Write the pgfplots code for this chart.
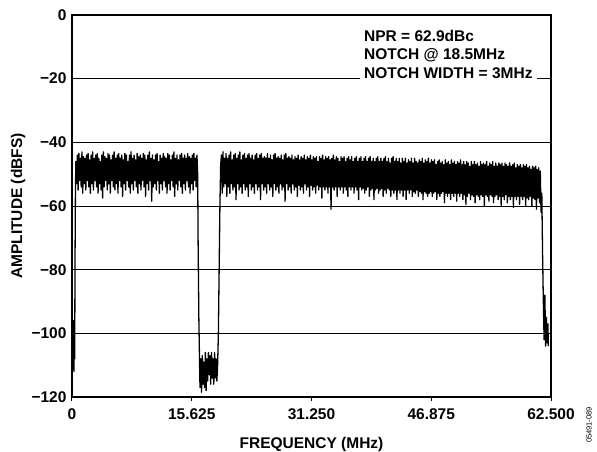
\documentclass[border=0pt]{standalone}
\usepackage{pgfplots}
\pgfplotsset{compat=1.18}
\usepackage{fontspec}
\setmainfont{Liberation Sans}
\newcommand\lbl{\fontsize{15.5}{18.5}\selectfont\bfseries}

\begin{document}
\begin{tikzpicture}
\begin{axis}[
  scale only axis, width=479pt, height=382pt,
  xmin=0, xmax=62.5, ymin=-120, ymax=0,
  axis line style={line width=1.4pt},
  xtick={0,15.625,31.25,46.875,62.5},
  xticklabels={0,15.625,31.250,46.875,62.500},
  ytick={-120,-100,-80,-60,-40,-20,0},
  yticklabels={−120,−100,−80,−60,−40,−20,0},
  ymajorgrids, grid style={black, line width=0.9pt},
  tick align=outside, xtick pos=bottom, ytick pos=left,
  major tick length=4pt,
  xtick style={black, line width=1pt},
  ytick style={draw=none},
  ticklabel style={font=\lbl},
  yticklabel style={xshift=2pt},
  xticklabel style={yshift=-4pt},
]
% spectrum trace: noise band, alternating top / bottom of the band
\addplot[black, line width=1.3pt, line join=round] coordinates {
(0.1,-98)(0.15,-111)(0.2,-96)(0.25,-112)(0.3,-100)(0.35,-108)(0.4,-75)(0.45,-55)
(0.5,-46)(0.6,-53)(0.7,-44)(0.8,-55)(0.9,-43.5)(1.0,-52)(1.1,-45)(1.2,-54)
(1.3,-43)(1.4,-56)(1.5,-44.5)(1.6,-53)(1.7,-45)(1.8,-55)(1.9,-44)(2.0,-52)
(2.1,-43.5)(2.2,-54)(2.3,-45.5)(2.4,-56)(2.5,-44)(2.6,-53)(2.7,-43)(2.8,-55)
(2.9,-45)(3.0,-52)(3.1,-44)(3.2,-54)(3.3,-43.5)(3.4,-56)(3.5,-45)(3.6,-53)
(3.7,-46)(3.8,-55)(3.9,-44)(4.0,-57.5)(4.1,-43)(4.2,-54)(4.3,-44.5)(4.4,-52)
(4.5,-45)(4.6,-55)(4.7,-43.5)(4.8,-53)(4.9,-44)(5.0,-56)(5.1,-45.5)(5.2,-52)
(5.3,-44)(5.4,-54)(5.5,-43)(5.6,-55)(5.7,-45)(5.8,-53)(5.9,-44)(6.0,-56)
(6.1,-43.5)(6.2,-52)(6.3,-45)(6.4,-54)(6.5,-44)(6.6,-57)(6.7,-45.5)(6.8,-53)
(6.9,-43.5)(7.0,-55)(7.1,-44)(7.2,-52)(7.3,-46)(7.4,-54)(7.5,-44)(7.6,-56)
(7.7,-43)(7.8,-53)(7.9,-45)(8.0,-55)(8.1,-44)(8.2,-52)(8.3,-45.5)(8.4,-54)
(8.5,-43.5)(8.6,-56)(8.7,-44.5)(8.8,-53)(8.9,-44)(9.0,-55)(9.1,-45)(9.2,-52)
(9.3,-43.5)(9.4,-54)(9.5,-44)(9.6,-57)(9.7,-45.5)(9.8,-53)(9.9,-44)(10.0,-55)
(10.1,-43)(10.2,-52)(10.3,-45)(10.4,-58.5)(10.5,-44)(10.6,-54)(10.7,-45.5)(10.8,-53)
(10.9,-44)(11.0,-55)(11.1,-43.5)(11.2,-52)(11.3,-46)(11.4,-56)(11.5,-44)(11.6,-53)
(11.7,-45)(11.8,-55)(11.9,-43.5)(12.0,-52)(12.1,-44.5)(12.2,-54)(12.3,-45)(12.4,-56)
(12.5,-43.5)(12.6,-53)(12.7,-44)(12.8,-55)(12.9,-45.5)(13.0,-52)(13.1,-44)(13.2,-54)
(13.3,-43)(13.4,-57)(13.5,-45)(13.6,-53)(13.7,-44)(13.8,-55)(13.9,-45.5)(14.0,-52)
(14.1,-44)(14.2,-54)(14.3,-43.5)(14.4,-56)(14.5,-45)(14.6,-53)(14.7,-44)(14.8,-55)
(14.9,-45)(15.0,-52)(15.1,-43.5)(15.2,-54)(15.3,-44.5)(15.4,-56)(15.5,-45)(15.6,-53)
(15.7,-44)(15.8,-55)(15.9,-43.5)(16.0,-52)(16.1,-45)(16.2,-54)(16.3,-44)
(16.4,-50)(16.45,-70)(16.55,-95)(16.65,-110)
(16.7,-117)(16.8,-108)(16.9,-118.5)(17.0,-107)(17.1,-116)(17.2,-109)(17.3,-117)(17.4,-106)
(17.5,-118)(17.6,-108)(17.7,-115)(17.8,-106)(17.9,-113)(18.0,-107)(18.1,-116)(18.2,-106)
(18.3,-114)(18.4,-108)(18.5,-116)(18.6,-106)(18.7,-114)(18.8,-108)(18.9,-115)(19.0,-110)
(19.1,-100)(19.2,-80)(19.3,-60)(19.4,-47)
(19.5,-44)(19.6,-56)(19.7,-43)(19.8,-54)(19.9,-45)(20.0,-53)(20.1,-43.5)(20.2,-57)
(20.3,-45)(20.4,-54)(20.5,-44)(20.6,-56)(20.7,-43)(20.8,-53)(20.9,-45.5)(21.0,-55)
(21.1,-44)(21.2,-54)(21.3,-43.5)(21.4,-58)(21.5,-45)(21.6,-53)(21.7,-44)(21.8,-55)
(21.9,-43)(22.0,-54)(22.1,-45.5)(22.2,-56)(22.3,-44)(22.4,-53)(22.5,-43.5)(22.6,-55)
(22.7,-45)(22.8,-54)(22.9,-44)(23.0,-57)(23.1,-43.5)(23.2,-53)(23.3,-45)(23.4,-55)
(23.5,-44)(23.6,-54)(23.7,-45.5)(23.8,-56)(23.9,-44)(24.0,-53)(24.1,-43.5)(24.2,-55)
(24.3,-45)(24.4,-54)(24.5,-44)(24.6,-58)(24.7,-43.5)(24.8,-53)(24.9,-45)(25.0,-55)
(25.1,-44.5)(25.2,-54)(25.3,-45)(25.4,-56)(25.5,-43.5)(25.6,-53)(25.7,-45)(25.8,-55)
(25.9,-44)(26.0,-54)(26.1,-45.5)(26.2,-57)(26.3,-44)(26.4,-53)(26.5,-43.5)(26.6,-55)
(26.7,-45)(26.8,-54)(26.9,-44.5)(27.0,-56)(27.1,-45)(27.2,-53)(27.3,-44)(27.4,-55)
(27.5,-45.5)(27.6,-54)(27.7,-44)(27.8,-58.5)(27.9,-43.5)(28.0,-53)(28.1,-45)(28.2,-55)
(28.3,-44.5)(28.4,-54)(28.5,-45)(28.6,-56)(28.7,-44)(28.8,-53)(28.9,-45.5)(29.0,-55)
(29.1,-44.5)(29.2,-54)(29.3,-45)(29.4,-57)(29.5,-44)(29.6,-53.5)(29.7,-45.5)(29.8,-55)
(29.9,-44.5)(30.0,-54)(30.1,-45)(30.2,-56)(30.3,-44)(30.4,-53)(30.5,-45.5)(30.6,-55)
(30.7,-44.5)(30.8,-54)(30.9,-45)(31.0,-57)(31.1,-44)(31.2,-53.5)(31.3,-45.5)(31.4,-55)
(31.5,-44.5)(31.6,-54)(31.7,-45)(31.8,-56)(31.9,-44.5)(32.0,-53.5)(32.1,-46)(32.2,-55)
(32.3,-44.5)(32.4,-54)(32.5,-45)(32.6,-57.5)(32.7,-44)(32.8,-54)(32.9,-45.5)(33.0,-55)
(33.1,-44.5)(33.2,-54)(33.3,-45)(33.4,-56)(33.5,-44.5)(33.6,-54)(33.7,-45.5)(33.8,-61)
(33.9,-45)(34.0,-54)(34.1,-44)(34.2,-55)(34.3,-45.5)(34.4,-54)(34.5,-44.5)(34.6,-57)
(34.7,-45)(34.8,-54)(34.9,-46)(35.0,-55)(35.1,-44.5)(35.2,-54)(35.3,-45)(35.4,-56)
(35.5,-44.5)(35.6,-54)(35.7,-46)(35.8,-55)(35.9,-45)(36.0,-57)(36.1,-44.5)(36.2,-54)
(36.3,-45.5)(36.4,-55)(36.5,-44.5)(36.6,-54)(36.7,-46)(36.8,-56)(36.9,-45)(37.0,-54)
(37.1,-44.5)(37.2,-55)(37.3,-46)(37.4,-58)(37.5,-45)(37.6,-54)(37.7,-44.5)(37.8,-55)
(37.9,-46)(38.0,-54.5)(38.1,-45)(38.2,-56)(38.3,-44.5)(38.4,-55)(38.5,-46)(38.6,-54)
(38.7,-45)(38.8,-57)(38.9,-44.5)(39.0,-55)(39.1,-46)(39.2,-54.5)(39.3,-45)(39.4,-58)
(39.5,-46)(39.6,-55)(39.7,-45)(39.8,-54.5)(39.9,-44.5)(40.0,-56)(40.1,-46)(40.2,-55)
(40.3,-45)(40.4,-54.5)(40.5,-46)(40.6,-57)(40.7,-45)(40.8,-55)(40.9,-44.5)(41.0,-56)
(41.1,-46)(41.2,-54.5)(41.3,-45)(41.4,-55)(41.5,-46.5)(41.6,-57)(41.7,-45)(41.8,-55)
(41.9,-44.5)(42.0,-56)(42.1,-46)(42.2,-55)(42.3,-45)(42.4,-58)(42.5,-46)(42.6,-55)
(42.7,-45)(42.8,-56)(42.9,-46.5)(43.0,-55)(43.1,-45)(43.2,-57)(43.3,-46)(43.4,-55)
(43.5,-45)(43.6,-58)(43.7,-46.5)(43.8,-55)(43.9,-45.5)(44.0,-56)(44.1,-46)(44.2,-55)
(44.3,-45)(44.4,-57)(44.5,-46.5)(44.6,-55.5)(44.7,-45)(44.8,-56)(44.9,-46)(45.0,-55)
(45.1,-46.5)(45.2,-57)(45.3,-45.5)(45.4,-55.5)(45.5,-46)(45.6,-56)(45.7,-45)(45.8,-58)
(45.9,-46.5)(46.0,-55.5)(46.1,-45.5)(46.2,-56)(46.3,-46)(46.4,-57)(46.5,-45)(46.6,-56)
(46.7,-46.5)(46.8,-55.5)(46.9,-45.5)(47.0,-57)(47.1,-46)(47.2,-56)(47.3,-45.5)(47.4,-55.5)
(47.5,-47)(47.6,-58)(47.7,-46)(47.8,-56)(47.9,-45.5)(48.0,-57)(48.1,-46.5)(48.2,-56)
(48.3,-46)(48.4,-55.5)(48.5,-47)(48.6,-59)(48.7,-45.5)(48.8,-56)(48.9,-46.5)(49.0,-57)
(49.1,-46)(49.2,-56)(49.3,-47)(49.4,-58)(49.5,-45.5)(49.6,-56)(49.7,-46.5)(49.8,-57)
(49.9,-46)(50.0,-56)(50.1,-47)(50.2,-58.5)(50.3,-46)(50.4,-56)(50.5,-46.5)(50.6,-57)
(50.7,-45.5)(50.8,-56)(50.9,-47)(51.0,-58)(51.1,-46)(51.2,-56.5)(51.3,-47)(51.4,-59.5)
(51.5,-46)(51.6,-57)(51.7,-46.5)(51.8,-56)(51.9,-47.5)(52.0,-58)(52.1,-46)(52.2,-56.5)
(52.3,-47)(52.4,-57)(52.5,-46)(52.6,-59)(52.7,-47)(52.8,-56.5)(52.9,-46.5)(53.0,-57)
(53.1,-47.5)(53.2,-58)(53.3,-46)(53.4,-56.5)(53.5,-47)(53.6,-57)(53.7,-46.5)(53.8,-60)
(53.9,-47)(54.0,-56.5)(54.1,-46)(54.2,-57)(54.3,-47.5)(54.4,-58.5)(54.5,-46.5)(54.6,-56.5)
(54.7,-47)(54.8,-57)(54.9,-46)(55.0,-59)(55.1,-47.5)(55.2,-57)(55.3,-46.5)(55.4,-56.5)
(55.5,-47.5)(55.6,-58)(55.7,-46.5)(55.8,-57)(55.9,-47)(56.0,-60)(56.1,-46.5)(56.2,-57)
(56.3,-47.5)(56.4,-58)(56.5,-46.5)(56.6,-56.5)(56.7,-47)(56.8,-59)(56.9,-47.5)(57.0,-57)
(57.1,-46.5)(57.2,-58)(57.3,-47.5)(57.4,-57)(57.5,-47)(57.6,-60.5)(57.7,-46.5)(57.8,-57)
(57.9,-48)(58.0,-58)(58.1,-47)(58.2,-57)(58.3,-47.5)(58.4,-59.5)(58.5,-47)(58.6,-57)
(58.7,-48)(58.8,-58)(58.9,-47)(59.0,-57)(59.1,-47.5)(59.2,-60)(59.3,-47)(59.4,-57.5)
(59.5,-48)(59.6,-58)(59.7,-47.5)(59.8,-57)(59.9,-48.5)(60.0,-60)(60.1,-47.5)(60.2,-57.5)
(60.3,-48)(60.4,-58)(60.5,-47.5)(60.6,-61)(60.7,-48.5)(60.8,-57.5)(60.9,-48)(61.0,-59)
(61.1,-49)(61.2,-62)(61.3,-56)
(61.4,-75)(61.5,-90)(61.6,-102)(61.7,-88)(61.8,-104)(61.9,-95)(62.0,-103)(62.1,-97)(62.15,-104)
};
\coordinate (sw) at (rel axis cs:0,0);
\coordinate (ne) at (rel axis cs:1,1);
\coordinate (nw) at (rel axis cs:0,1);
\coordinate (se) at (rel axis cs:1,0);
\coordinate (ml) at (rel axis cs:0,0.5);
\coordinate (bm) at (rel axis cs:0.5,0);
\end{axis}
\node[fill=white, inner sep=4pt, anchor=north west, align=left, font=\lbl]
  at ([shift={(288pt,-11pt)}]nw) {NPR = 62.9dBc\\NOTCH @ 18.5MHz\\NOTCH WIDTH = 3MHz};
\node[rotate=90, font=\lbl] at ([xshift=-54pt]ml) {AMPLITUDE (dBFS)};
\node[font=\lbl] at ([yshift=-47pt]bm) {FREQUENCY (MHz)};
\node[rotate=90, font=\fontsize{7.5}{9}\selectfont] at ([shift={(38pt,-28pt)}]se) {05491-089};
\pgfresetboundingbox
\path ([shift={(-72pt,-55pt)}]sw) rectangle ([shift={(46pt,15pt)}]ne);
\end{tikzpicture}
\end{document}
